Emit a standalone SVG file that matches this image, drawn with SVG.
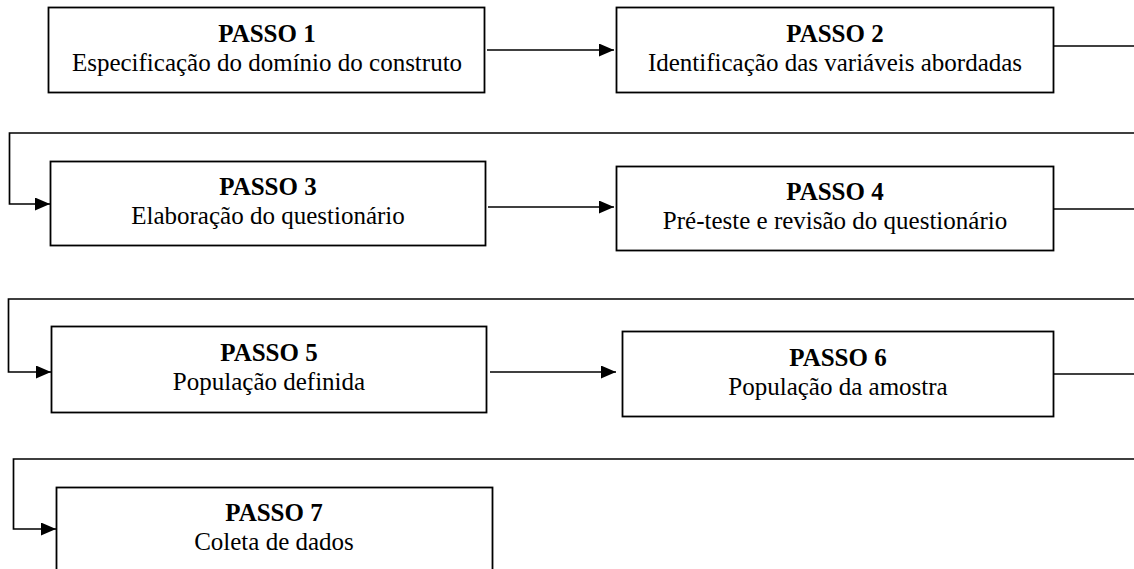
<svg xmlns="http://www.w3.org/2000/svg" width="1134" height="569" viewBox="0 0 1134 569">
<defs>
<marker id="arr" markerWidth="15" markerHeight="13" refX="15" refY="6.5" orient="auto" markerUnits="userSpaceOnUse">
<path d="M0,0 L15,6.5 L0,13 Z" fill="#000"/>
</marker>
<style>
.box{fill:#fff;stroke:#000;stroke-width:1.8}
.t{font-family:"Liberation Serif","Times New Roman",serif;font-size:25px;fill:#000;text-anchor:middle}
.b{font-weight:bold}
.c{fill:none;stroke:#000;stroke-width:1.7}
</style>
</defs>
<rect width="1134" height="569" fill="#fff"/>
<g id="connectors">
<path class="c" d="M487,50 H614" marker-end="url(#arr)"/>
<path class="c" d="M1053,46 H1134"/>
<path class="c" d="M1134,133 H9.5 V204 H50" marker-end="url(#arr)"/>
<path class="c" d="M488,207 H614" marker-end="url(#arr)"/>
<path class="c" d="M1053,209 H1134"/>
<path class="c" d="M1134,299 H8.5 V372 H51" marker-end="url(#arr)"/>
<path class="c" d="M490,372 H616" marker-end="url(#arr)"/>
<path class="c" d="M1053,374 H1134"/>
<path class="c" d="M1134,459 H13.5 V529 H56" marker-end="url(#arr)"/>
</g>
<g id="n1">
<rect class="box" x="48.5" y="7.5" width="436" height="85"/>
<text class="t b" x="267" y="42">PASSO 1</text>
<text class="t" x="267" y="71">Especificação do domínio do construto</text>
</g>
<g id="n2">
<rect class="box" x="616.5" y="7.5" width="437" height="85"/>
<text class="t b" x="835" y="42">PASSO 2</text>
<text class="t" x="835" y="71">Identificação das variáveis abordadas</text>
</g>
<g id="n3">
<rect class="box" x="50.5" y="161.5" width="435" height="84"/>
<text class="t b" x="268" y="195">PASSO 3</text>
<text class="t" x="268" y="224">Elaboração do questionário</text>
</g>
<g id="n4">
<rect class="box" x="616.5" y="166.5" width="437" height="84"/>
<text class="t b" x="835" y="200">PASSO 4</text>
<text class="t" x="835" y="229">Pré-teste e revisão do questionário</text>
</g>
<g id="n5">
<rect class="box" x="51.5" y="326.5" width="435" height="86"/>
<text class="t b" x="269" y="361">PASSO 5</text>
<text class="t" x="269" y="390">População definida</text>
</g>
<g id="n6">
<rect class="box" x="622.5" y="331.5" width="431" height="85"/>
<text class="t b" x="838" y="366">PASSO 6</text>
<text class="t" x="838" y="395">População da amostra</text>
</g>
<g id="n7">
<rect class="box" x="56.5" y="487.5" width="436" height="100"/>
<text class="t b" x="274" y="521">PASSO 7</text>
<text class="t" x="274" y="550">Coleta de dados</text>
</g>
</svg>
